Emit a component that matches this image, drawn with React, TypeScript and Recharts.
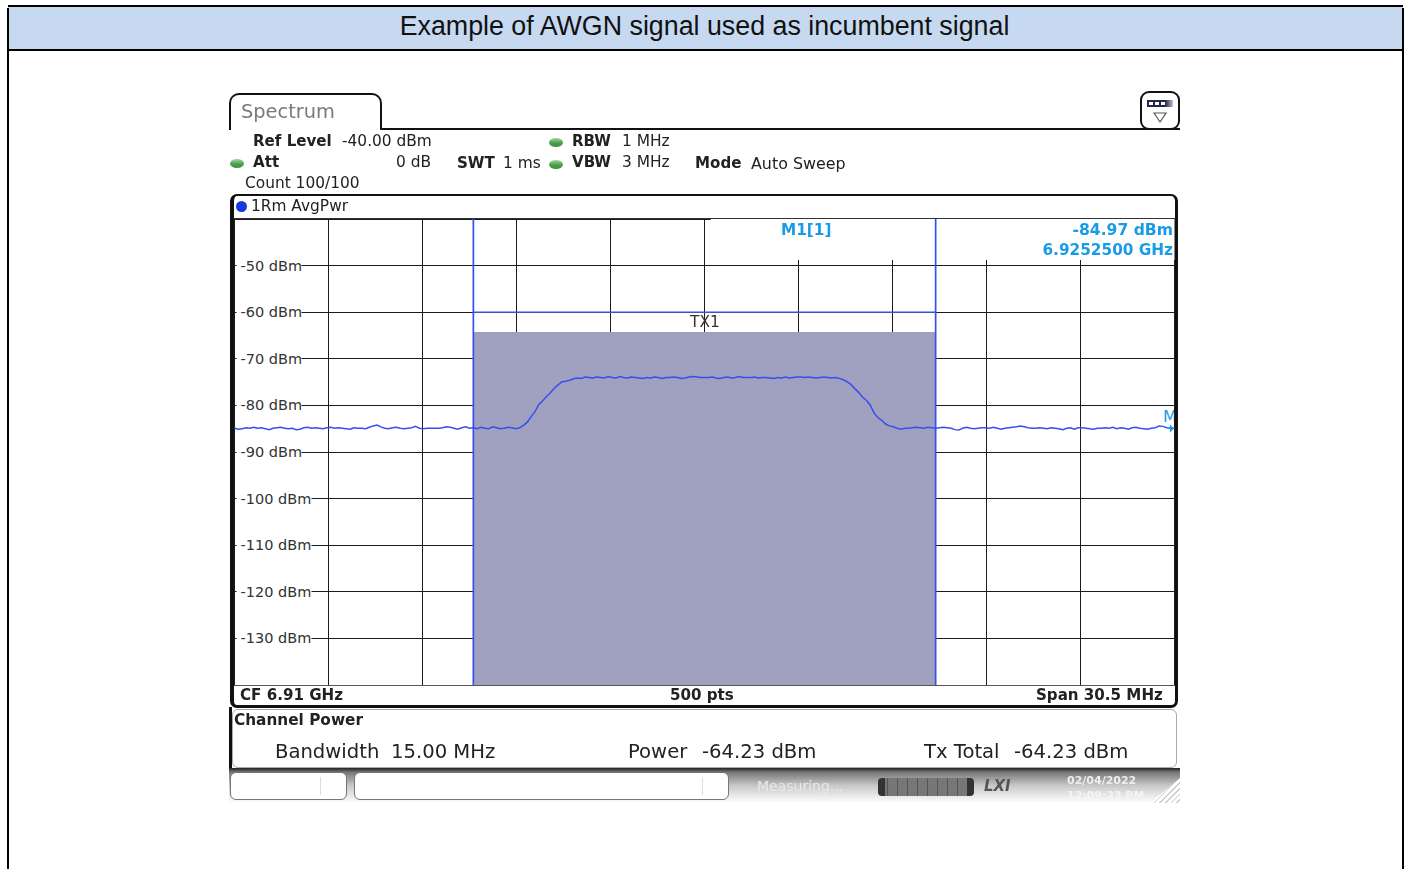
import React from 'react';
import {
  CartesianGrid,
  Line,
  LineChart,
  ReferenceArea,
  ReferenceDot,
  ReferenceLine,
  XAxis,
  YAxis
} from 'recharts';

const dbTicks = [-50, -60, -70, -80, -90, -100, -110, -120, -130];
const freqTicks = [-12, -9, -6, -3, 0, 3, 6, 9, 12].map((d) => d * (30.5 / 30));
const channelEdges = [-7.5, 7.5];
const channelPower = -64.23;
const limitLine = -60;
const markerLevel = -84.97;

// trace, one value per 0.125 MHz from the left edge
const traceLevels = [
  -84.9, -85.1, -85.0, -84.8, -84.9, -84.7, -84.9, -84.8, -85.0, -85.2, -84.9, -84.8, -84.7, -84.9, -85.0, -84.9, -85.2, -85.1, -84.8, -84.7,
  -84.9, -84.8, -84.9, -85.0, -84.8, -84.7, -84.9, -84.8, -84.9, -85.0, -85.1, -84.8, -84.9, -84.9, -85.0, -84.7, -84.4, -84.2, -84.6, -84.9,
  -85.0, -84.8, -84.7, -84.9, -85.0, -84.9, -84.8, -84.5, -84.9, -85.0, -84.9, -84.9, -84.9, -84.9, -84.8, -84.6, -84.7, -84.9, -85.1, -84.8,
  -84.6, -84.9, -84.8, -85.0, -84.7, -84.9, -85.0, -84.6, -84.8, -85.0, -84.9, -84.7, -84.8, -85.0, -84.8, -84.3, -83.6, -82.4, -81.35, -79.8,
  -79.0, -78.1, -77.3, -76.3, -75.6, -74.9, -74.8, -74.6, -74.3, -74.1, -74.2, -73.9, -74.0, -74.1, -73.9, -74.0, -74.1, -73.8, -74.0, -74.1,
  -73.8, -74.0, -74.1, -73.9, -74.0, -74.1, -74.2, -74.0, -74.1, -73.9, -74.0, -74.2, -74.0, -74.0, -73.9, -74.0, -74.2, -74.1, -73.9, -73.8,
  -73.9, -74.0, -74.0, -74.0, -73.9, -74.1, -74.2, -74.0, -73.9, -74.1, -74.0, -73.8, -74.0, -74.0, -74.0, -73.9, -74.1, -74.0, -74.0, -74.1,
  -74.2, -74.0, -74.1, -73.9, -74.1, -74.0, -73.9, -73.9, -74.0, -73.9, -74.0, -74.1, -74.0, -73.9, -74.0, -74.1, -74.0, -74.2, -74.5, -74.9,
  -75.5, -76.4, -77.2, -78.2, -78.9, -79.9, -81.6, -82.6, -83.2, -84.0, -84.4, -84.6, -84.9, -85.1, -84.9, -84.9, -84.8, -84.7, -84.8, -84.9,
  -84.7, -84.8, -84.9, -84.8, -84.7, -84.8, -84.9, -85.2, -85.3, -84.9, -84.7, -84.9, -85.0, -84.9, -84.8, -84.8, -84.9, -84.7, -84.9, -85.1,
  -84.9, -84.8, -84.7, -84.6, -84.4, -84.6, -84.8, -84.9, -84.9, -84.8, -84.9, -85.0, -84.8, -84.9, -85.0, -85.2, -84.9, -84.8, -85.1, -84.8,
  -84.8, -84.9, -85.0, -85.1, -84.9, -84.9, -84.8, -84.9, -84.7, -85.0, -84.8, -84.9, -85.1, -84.8, -84.7, -84.9, -85.0, -85.1, -84.9, -84.8,
  -84.4, -84.5, -84.8, -84.9, -84.9
];

const traceData = traceLevels.map((level, i) => ({ freq: -15.25 + i * 0.125, level }));

const SANS = '"DejaVu Sans", sans-serif';
const CYAN = '#1a9be8';
const BLUE = '#3550ec';

function Txt({ x, y, right, bold, size, color = '#222', children }: any) {
  const pos = right !== undefined ? { right: 1409 - right } : { left: x };
  return (
    <span
      style={{
        position: 'absolute',
        ...pos,
        top: y + 1,
        transform: 'translateY(-50%)',
        fontFamily: SANS,
        fontSize: size ?? (bold ? 15.1 : 15.4),
        fontWeight: bold ? 700 : 400,
        color,
        whiteSpace: 'pre',
        lineHeight: 1,
        filter: 'blur(0.3px)'
      }}
    >
      {children}
    </span>
  );
}

function Box({ style }: { style: React.CSSProperties }) {
  return <div style={{ position: 'absolute', boxSizing: 'border-box', ...style }} />;
}

function Led({ x, y }: { x: number; y: number }) {
  return (
    <Box
      style={{
        left: x - 7,
        top: y - 4,
        width: 14,
        height: 9,
        borderRadius: '50%',
        background: 'linear-gradient(#a4d6a4, #4aa04a 55%, #3f8f3f)'
      }}
    />
  );
}

function DbTick({ x, y, payload }: any) {
  const wide = payload.value <= -100;
  return (
    <g>
      <rect x={x - 6} y={y - 9} width={wide ? 75 : 65} height={18} fill="#fff" />
      <text x={x - 2} y={y + 5} fontFamily={SANS} fontSize={14.5} fill="#333">
        {payload.value} dBm
      </text>
    </g>
  );
}

function MarkerShape({ cx, cy }: any) {
  return (
    <g>
      <svg x={cx - 10} y={cy - 24} width={11} height={24}>
        <text x={0} y={17} fontFamily={SANS} fontSize={16} fill={CYAN}>
          M1
        </text>
      </svg>
      <path d={`M${cx - 3} ${cy - 4} L${cx + 1} ${cy} L${cx - 3} ${cy + 4} Z`} fill={CYAN} />
    </g>
  );
}

function SpectrumChart() {
  return (
    <LineChart
      width={1409}
      height={869}
      data={traceData}
      margin={{ left: 234.5, right: 234.5, top: 219, bottom: 184 }}
      style={{ position: 'absolute', left: 0, top: 0 }}
    >
      <XAxis dataKey="freq" type="number" domain={[-15.25, 15.25]} ticks={freqTicks} hide />
      <YAxis
        type="number"
        domain={[-140, -40]}
        ticks={dbTicks}
        interval={0}
        mirror
        axisLine={false}
        tickLine={false}
        tick={DbTick}
      />
      <CartesianGrid stroke="#1c1c1c" strokeWidth={1} shapeRendering="crispEdges" />
      <ReferenceArea x1={0.2} x2={15.25} y1={-48.8} y2={-40} fill="#fff" fillOpacity={1} stroke="none" />
      <ReferenceArea
        x1={channelEdges[0]}
        x2={channelEdges[1]}
        y1={-140}
        y2={channelPower}
        fill="#a0a0c0"
        fillOpacity={1}
        stroke="none"
      />
      <ReferenceLine
        segment={[
          { x: channelEdges[0], y: limitLine },
          { x: channelEdges[1], y: limitLine }
        ]}
        stroke={BLUE}
        strokeWidth={1.5}
      />
      {channelEdges.map((edge) => (
        <ReferenceLine key={edge} x={edge} stroke={BLUE} strokeWidth={1.7} />
      ))}
      <Line
        dataKey="level"
        type="linear"
        stroke={BLUE}
        strokeWidth={1.5}
        dot={false}
        isAnimationActive={false}
      />
      <ReferenceDot x={15.2} y={markerLevel} shape={MarkerShape} ifOverflow="visible" />
    </LineChart>
  );
}

export default function App() {
  return (
    <div style={{ position: 'absolute', left: 0, top: 0, width: 1409, height: 869, overflow: 'hidden', background: '#fff' }}>
      {/* page frame and title bar */}
      <Box style={{ left: 8, top: 5, width: 1395, height: 46, background: '#c6d9f0', borderTop: '2px solid #000', borderBottom: '2px solid #000' }} />
      <Box style={{ left: 7, top: 8, width: 2, height: 861, background: '#000' }} />
      <Box style={{ left: 1402, top: 8, width: 2, height: 861, background: '#000' }} />
      <span
        style={{
          position: 'absolute',
          left: 8,
          width: 1393,
          top: 11,
          textAlign: 'center',
          fontFamily: '"Liberation Sans", Arial, sans-serif',
          fontSize: 26.8,
          lineHeight: '30px',
          color: '#111'
        }}
      >
        Example of AWGN signal used as incumbent signal
      </span>

      {/* instrument tab strip */}
      <Box style={{ left: 381, top: 128, width: 799, height: 2, background: '#111' }} />
      <Box style={{ left: 229, top: 93, width: 153, height: 37, border: '2px solid #111', borderBottom: 'none', borderRadius: '10px 10px 0 0' }} />
      <Txt x={241} y={111} size={19.4} color="#7a7a7a">Spectrum</Txt>
      <Box style={{ left: 1140, top: 91, width: 40, height: 39, border: '2px solid #111', borderRadius: 9, background: '#fff' }} />
      <Box style={{ left: 1147, top: 100, width: 26, height: 7, background: 'linear-gradient(90deg,#26264a,#26264a 70%,#c0c0c8)' }} />
      <Box style={{ left: 1149, top: 102, width: 4, height: 3, background: '#fff' }} />
      <Box style={{ left: 1155, top: 102, width: 4, height: 3, background: '#fff' }} />
      <Box style={{ left: 1161, top: 102, width: 4, height: 3, background: '#fff' }} />
      <svg style={{ position: 'absolute', left: 1153, top: 112 }} width={16} height={12}>
        <path d="M1 1 L13 1 L7 10 Z" fill="none" stroke="#555" strokeWidth={1.2} />
      </svg>

      {/* settings header */}
      <Led x={237} y={163} />
      <Led x={556} y={142} />
      <Led x={556} y={164} />
      <Txt x={253} y={141} bold>Ref Level</Txt>
      <Txt x={342} y={141}>-40.00 dBm</Txt>
      <Txt x={572} y={141} bold>RBW</Txt>
      <Txt x={622} y={141}>1 MHz</Txt>
      <Txt x={253} y={162} bold>Att</Txt>
      <Txt right={431} y={162}>0 dB</Txt>
      <Txt x={457} y={163} bold>SWT</Txt>
      <Txt x={503} y={163}>1 ms</Txt>
      <Txt x={572} y={162} bold>VBW</Txt>
      <Txt x={622} y={162}>3 MHz</Txt>
      <Txt x={695} y={163} bold>Mode</Txt>
      <Txt x={751} y={163} size={15.9}>Auto Sweep</Txt>
      <Txt x={245} y={183}>Count 100/100</Txt>

      {/* diagram window */}
      <Box style={{ left: 230, top: 194, width: 948, height: 514, borderStyle: 'solid', borderColor: '#111', borderWidth: '2px 3px 3px 4px', borderRadius: 7, background: '#fff' }} />
      <Box style={{ left: 236, top: 201, width: 11, height: 11, borderRadius: '50%', background: '#1a36e0' }} />
      <Txt x={251} y={206}>1Rm AvgPwr</Txt>

      <SpectrumChart />

      <Box style={{ left: 234, top: 218, width: 941, height: 1, background: '#333' }} />
      <Box style={{ left: 234, top: 685, width: 941, height: 1, background: '#555' }} />
      <Txt x={781} y={230} bold size={15.3} color={CYAN}>M1[1]</Txt>
      <Txt right={1173} y={230} bold size={15.6} color={CYAN}>-84.97 dBm</Txt>
      <Txt right={1173} y={250} bold size={15.3} color={CYAN}>6.9252500 GHz</Txt>
      <Txt x={690} y={322} color="#333">TX1</Txt>
      <Txt x={240} y={695} bold>CF 6.91 GHz</Txt>
      <Txt x={670} y={695} bold>500 pts</Txt>
      <Txt x={1036} y={695} bold>Span 30.5 MHz</Txt>

      {/* channel power table */}
      <Box style={{ left: 232, top: 709, width: 945, height: 59, border: '1px solid #aaa', borderRadius: 6, background: '#fff' }} />
      <Box style={{ left: 229, top: 707, width: 3, height: 62, background: '#111' }} />
      <Txt x={234} y={720} bold size={15.3}>Channel Power</Txt>
      <Txt x={275} y={751} size={19.6}>Bandwidth</Txt>
      <Txt x={391} y={751} size={19.6}>15.00 MHz</Txt>
      <Txt x={628} y={751} size={19.6}>Power</Txt>
      <Txt x={702} y={751} size={19.6}>-64.23 dBm</Txt>
      <Txt x={924} y={751} size={19.6}>Tx Total</Txt>
      <Txt x={1014} y={751} size={19.6}>-64.23 dBm</Txt>

      {/* status bar */}
      <Box style={{ left: 229, top: 768, width: 951, height: 35, background: 'linear-gradient(#222 0%, #777 12%, #c8c8c8 50%, #fff 100%)' }} />
      <Box style={{ left: 1150, top: 778, width: 30, height: 25, background: 'repeating-linear-gradient(135deg,#ccc 0 1px,#fff 1px 4px)', clipPath: 'polygon(100% 0, 100% 100%, 0 100%)' }} />
      <Box style={{ left: 230, top: 772, width: 117, height: 28, border: '1px solid #777', borderRadius: 6, background: '#fff' }} />
      <Box style={{ left: 354, top: 772, width: 375, height: 28, border: '1px solid #777', borderRadius: 6, background: '#fff' }} />
      <Box style={{ left: 320, top: 777, width: 1, height: 18, background: '#ddd' }} />
      <Box style={{ left: 702, top: 777, width: 1, height: 18, background: '#ddd' }} />
      <Txt x={757} y={785} size={14} color="#e8e8e8">Measuring...</Txt>
      <Box style={{ left: 878, top: 778, width: 96, height: 18, borderRadius: 4, background: 'linear-gradient(90deg,#333 0 7%,transparent 7% 93%,#333 93%),repeating-linear-gradient(90deg,#777 0 9px,#555 9px 10px)' }} />
      <Txt x={984} y={785} bold size={15} color="#555"><i>LXI</i></Txt>
      <Txt x={1067} y={779} bold size={11} color="#eee">02/04/2022</Txt>
      <Txt x={1067} y={794} bold size={11} color="#f4f4f4">12:09:23 PM</Txt>
    </div>
  );
}
